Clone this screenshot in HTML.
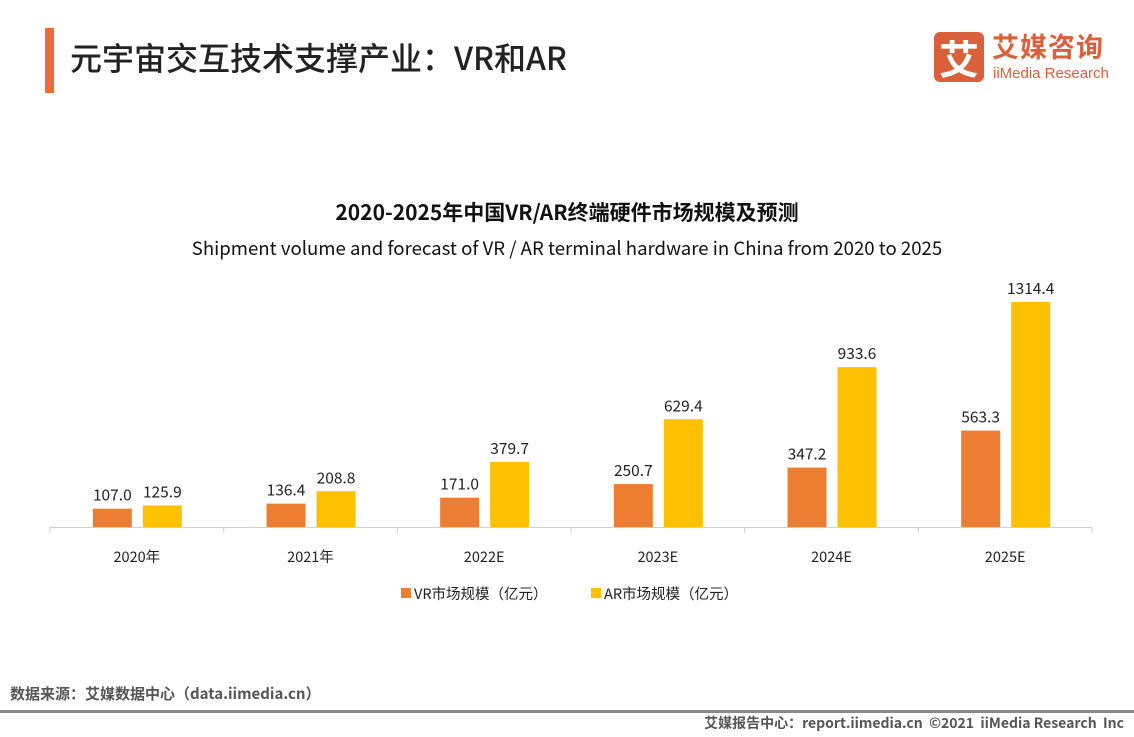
<!DOCTYPE html>
<html><head><meta charset="utf-8"><style>
body{margin:0;width:1134px;height:737px;background:#fff;position:relative;overflow:hidden;font-family:"Liberation Sans","Noto Sans CJK SC",sans-serif;}
.abs{position:absolute;white-space:nowrap;}
</style></head><body>
<div class="abs" style="left:45px;top:28px;width:9px;height:65px;background:#ee6b3a"></div>
<div class="abs" style="left:70px;top:34px;font-size:32px;color:#222;font-family:'Noto Sans CJK SC',sans-serif;font-weight:500">元宇宙交互技术支撑产业：VR和AR</div>
<div class="abs" style="left:934px;top:32px;width:50px;height:50px;background:#d9603b;border-radius:6px;color:#fff;font-size:40px;line-height:50px;text-align:center;font-family:'Noto Sans CJK SC',sans-serif;font-weight:bold">艾</div>
<div class="abs" style="left:992px;top:30px;font-size:27px;color:#d9603b;font-family:'Noto Sans CJK SC',sans-serif;font-weight:bold;letter-spacing:1px;line-height:32px">艾媒咨询</div>
<div class="abs" style="left:993px;top:65px;font-size:15px;color:#d9603b;line-height:18px">iiMedia Research</div>
<div class="abs" style="left:0;width:1134px;text-align:center;top:197px;font-size:21px;font-weight:bold;color:#111;font-family:'Noto Sans CJK SC',sans-serif">2020-2025年中国VR/AR终端硬件市场规模及预测</div>
<div class="abs" style="left:0;width:1134px;text-align:center;top:234px;font-size:18.6px;color:#111;font-family:'Noto Sans CJK SC',sans-serif">Shipment volume and forecast of VR / AR terminal hardware in China from 2020 to 2025</div>
<svg class="abs" style="left:0;top:0" width="1134" height="737" id="chart"></svg>
<div class="abs" style="left:10px;top:683px;font-size:15px;color:#555;font-weight:bold;font-family:'Noto Sans CJK SC',sans-serif">数据来源：艾媒数据中心（data.iimedia.cn）</div>
<div class="abs" style="left:0;top:710px;width:1134px;height:3px;background:#888"></div>
<div class="abs" style="right:10px;top:713px;font-size:14px;color:#555;font-weight:bold;font-family:'Noto Sans CJK SC',sans-serif">艾媒报告中心：report.iimedia.cn &nbsp;©2021 &nbsp;iiMedia Research &nbsp;Inc</div>
<script>
const categories=["2020年","2021年","2022E","2023E","2024E","2025E"];
const vrValues=[107.0,136.4,171.0,250.7,347.2,563.3];
const arValues=[125.9,208.8,379.7,629.4,933.6,1314.4];
const seriesNames=["VR市场规模（亿元）","AR市场规模（亿元）"];
const colors=["#ed7d31","#ffc000"];
const svg=document.getElementById('chart');
const NS="http://www.w3.org/2000/svg";
const x0=50,x1=1092,base=527,scale=225/1314.4;
const gw=(x1-x0)/categories.length;
function y(v){return base-v*scale;}
function add(tag,attrs,parent){const e=document.createElementNS(NS,tag);for(const k in attrs)e.setAttribute(k,attrs[k]);(parent||svg).appendChild(e);return e;}
const axis=add('line',{x1:x0,x2:x1,y1:base+0.5,y2:base+0.5,stroke:'#d0d0d0','stroke-width':1});


for(let i=0;i<=categories.length;i++){
  const t=add('line',{x1:x0+i*gw,x2:x0+i*gw,y1:base,y2:base+6,stroke:'#d0d0d0'});
  
  
}
const bw=39;
categories.forEach((c,i)=>{
  const cx=x0+gw*(i+0.5);
  [vrValues[i],arValues[i]].forEach((v,j)=>{
    const bx=j===0?cx-44:cx+6;
    const r=add('rect',{x:bx,y:y(v),width:bw,height:base-y(v),fill:colors[j]});
    
    
    const t=add('text',{x:bx+bw/2,y:y(v)-8,'text-anchor':'middle','font-size':15.5,fill:'#222','font-family':'Noto Sans CJK SC, sans-serif'});
    t.textContent=v.toFixed(1);
    
    
  });
  const l=add('text',{x:cx,y:562,'text-anchor':'middle','font-size':14.5,fill:'#222','font-family':'Noto Sans CJK SC, sans-serif'});
  l.textContent=c;
  
  
});
const lx=[401,591];
seriesNames.forEach((n,j)=>{
  const s=add('rect',{x:lx[j],y:588,width:10,height:10,fill:colors[j]});
  
  
  const t=add('text',{x:lx[j]+13,y:599,'font-size':14.5,fill:'#222','font-family':'Noto Sans CJK SC, sans-serif'});
  t.textContent=n;
  
  
});
</script>
</body></html>
